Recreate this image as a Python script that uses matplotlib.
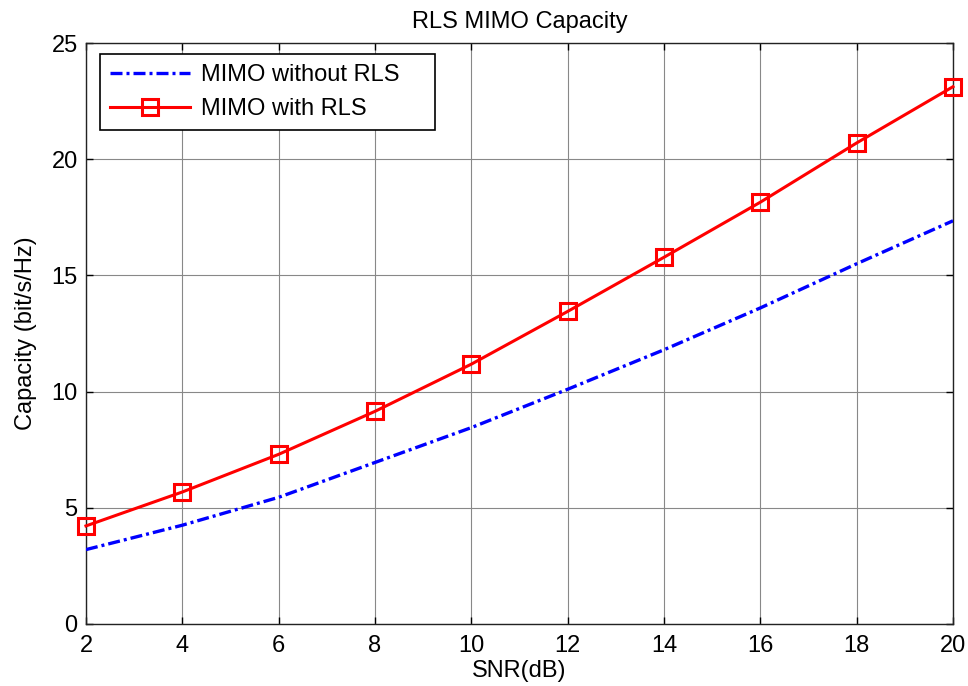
import matplotlib
matplotlib.use("Agg")
import matplotlib.pyplot as plt

snr = [2, 4, 6, 8, 10, 12, 14, 16, 18, 20]
cap_without = [3.2, 4.25, 5.45, 6.95, 8.45, 10.1, 11.8, 13.6, 15.5, 17.35]
cap_with = [4.22, 5.68, 7.3, 9.15, 11.18, 13.45, 15.78, 18.15, 20.7, 23.12]
xticks = [2, 4, 6, 8, 10, 12, 14, 16, 18, 20]
yticks = [0, 5, 10, 15, 20, 25]

plt.rcParams['font.family'] = ['Liberation Sans', 'DejaVu Sans']
FS = 17

fig = plt.figure(figsize=(9.68, 6.86), dpi=100)
ax = fig.add_axes([0.0888, 0.0904, 0.8957, 0.8469])

ax.plot(snr, cap_without, color='#0000ff', linestyle='-.', linewidth=2.4,
        dashes=(3.6, 1.2, 0.9, 1.2), label='MIMO without RLS', zorder=3)
ax.plot(snr, cap_with, color='#ff0000', linestyle='-', linewidth=2.2,
        marker='s', markersize=11, markerfacecolor='none', markeredgewidth=2.2,
        markeredgecolor='#ff0000', label='MIMO with RLS', zorder=4, clip_on=False)

ax.set_xlim(2, 20)
ax.set_ylim(0, 25)
ax.set_xticks(xticks)
ax.set_yticks(yticks)
ax.tick_params(direction='in', top=True, right=True, labelsize=FS, length=5, width=1)
ax.tick_params(axis='x', pad=8)
ax.tick_params(axis='y', pad=6)
ax.grid(True, color='#888888', linewidth=0.8, linestyle='-')
ax.set_axisbelow(True)
for s in ax.spines.values():
    s.set_linewidth(1)
    s.set_color('#222222')

ax.set_xlabel('SNR(dB)', fontsize=FS, labelpad=2)
ax.set_ylabel('Capacity (bit/s/Hz)', fontsize=FS, labelpad=10)
ax.set_title('RLS MIMO Capacity', fontsize=FS, pad=11)

leg = ax.legend(loc='upper left', bbox_to_anchor=(0.016, 0.981, 0.386, 0.0),
                mode='expand', fontsize=FS, fancybox=False, framealpha=1,
                edgecolor='black', handlelength=3.4, handletextpad=0.45,
                borderpad=0.42, labelspacing=0.5, borderaxespad=0)
leg.get_frame().set_linewidth(1.2)

fig.savefig('out.png', dpi=100)
